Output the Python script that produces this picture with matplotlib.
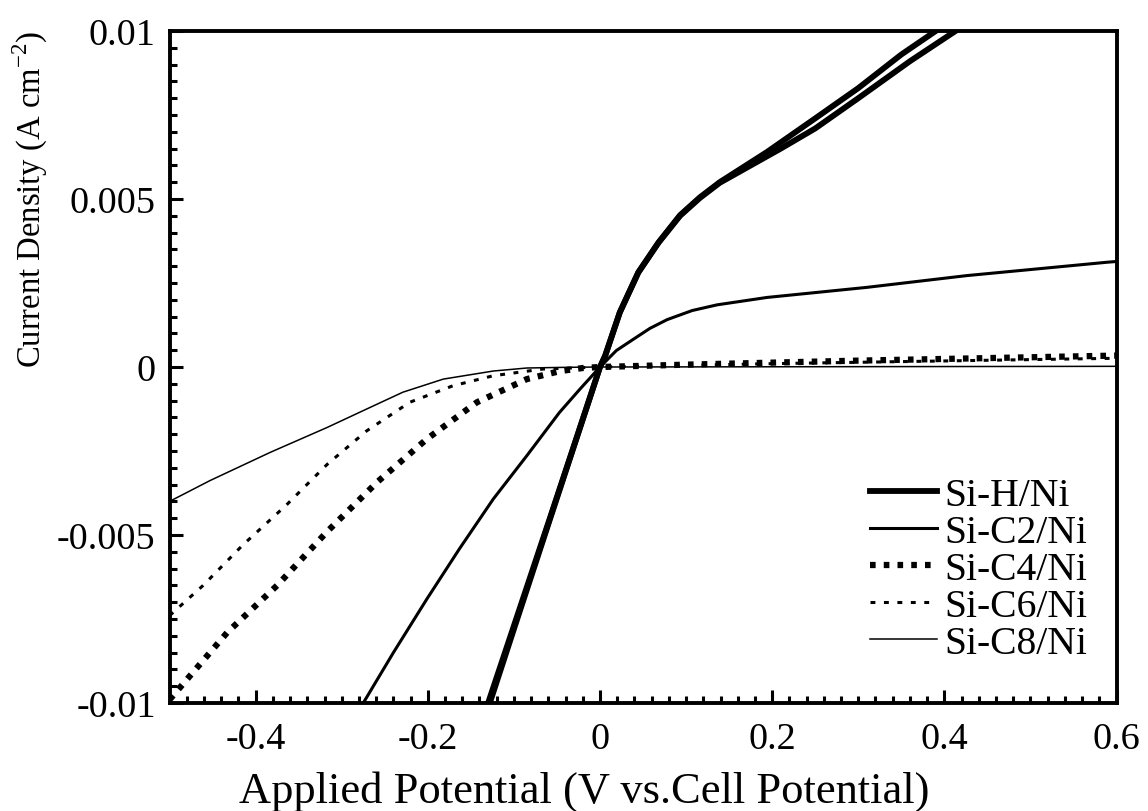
import numpy as np
import matplotlib
matplotlib.use('Agg')
import matplotlib.pyplot as plt
from matplotlib.ticker import MultipleLocator

plt.rcParams['font.family'] = ['Liberation Serif', 'DejaVu Serif']
plt.rcParams['mathtext.fontset'] = 'custom'
plt.rcParams['mathtext.rm'] = 'Liberation Serif'

# applied potential (V) vs current density (A cm-2)
sih_x = [-0.128, -0.1, -0.058, -0.03, 0, 0.006, 0.023, 0.0445, 0.068, 0.093,
         0.116, 0.139, 0.194, 0.25, 0.30, 0.35, 0.39]
sih_y = [-0.01, -0.0078, -0.00452, -0.00234, 0, 0.00034, 0.00163, 0.00282,
         0.00371, 0.00452, 0.00505, 0.0055, 0.0064, 0.0074, 0.0083, 0.0093,
         0.01]

# second thick trace (scan repeat), splits from the first above ~0.2 V
sih2_x = [-0.13, -0.1, -0.058, -0.03, 0, 0.006, 0.023, 0.0445, 0.068, 0.093,
          0.116, 0.139, 0.21, 0.25, 0.30, 0.36, 0.413]
sih2_y = [-0.01, -0.0077, -0.00448, -0.00232, 0, 0.00033, 0.00162, 0.00281,
          0.0037, 0.0045, 0.00503, 0.00548, 0.0065, 0.0071, 0.0080, 0.0091,
          0.01]

c2_x = [-0.275, -0.24, -0.201, -0.163, -0.124, -0.085, -0.047, -0.023, 0,
        0.019, 0.039, 0.058, 0.078, 0.107, 0.136, 0.194, 0.31, 0.426, 0.59,
        0.6]
c2_y = [-0.01, -0.0085, -0.0069, -0.0054, -0.00393, -0.00264, -0.00135,
        -0.00065, 0, 0.00049, 0.00083, 0.00115, 0.00141, 0.00168, 0.00185,
        0.00207, 0.00237, 0.00272, 0.00312, 0.00314]

c4_x = [-0.5, -0.433, -0.375, -0.317, -0.259, -0.201, -0.143, -0.085, -0.046,
        -0.02, 0, 0.1, 0.2, 0.3, 0.4, 0.5, 0.6]
c4_y = [-0.0099, -0.0079, -0.0065, -0.0049, -0.00343, -0.00214, -0.00105,
        -0.00036, -0.00012, -0.00003, 0, 0.00007, 0.00013, 0.00019, 0.00024,
        0.00029, 0.00034]

c6_x = [-0.5, -0.461, -0.415, -0.364, -0.317, -0.271, -0.221, -0.171, -0.124,
        -0.066, 0, 0.2, 0.4, 0.6]
c6_y = [-0.0074, -0.0065, -0.0053, -0.0041, -0.0029, -0.0019, -0.00105,
        -0.00056, -0.00026, -0.00006, 0, 0.0001, 0.00018, 0.00026]

c8_x = [-0.5, -0.453, -0.383, -0.317, -0.271, -0.229, -0.182, -0.124, -0.085,
        -0.04, 0, 0.3, 0.6]
c8_y = [-0.0040, -0.00338, -0.00254, -0.0018, -0.00125, -0.00075, -0.00036,
        -0.00012, -0.00003, -0.00001, 0, 0.00001, 0.00002]

fig = plt.figure(figsize=(11.48, 8.12), dpi=100)
ax = fig.add_axes([0.1477, 0.133, 0.8249, 0.8276])

ax.plot(sih_x, sih_y, 'k-', lw=4.2, label='Si-H/Ni', solid_joinstyle='round')
ax.plot(sih2_x, sih2_y, 'k-', lw=4.2, solid_joinstyle='round')
ax.plot(c2_x, c2_y, 'k-', lw=2.2, label='Si-C2/Ni', solid_joinstyle='round')
ax.plot(c4_x, c4_y, 'k', lw=4.5, ls=(0, (0.9, 1.3)), label='Si-C4/Ni')
ax.plot(c6_x, c6_y, 'k', lw=2.2, ls=(0, (1.6, 2.8)), label='Si-C6/Ni')
ax.plot(c8_x, c8_y, 'k-', lw=1.1, label='Si-C8/Ni')

ax.set_xlim(-0.5, 0.6)
ax.set_ylim(-0.01, 0.01)
ax.xaxis.set_minor_locator(MultipleLocator(0.02))
ax.yaxis.set_minor_locator(MultipleLocator(0.0005))
ax.set_xticks([-0.4, -0.2, 0, 0.2, 0.4, 0.6])
ax.set_xticklabels(['-0.4', '-0.2', '0', '0.2', '0.4', '0.6'])
ax.set_yticks([-0.01, -0.005, 0, 0.005, 0.01])
ax.set_yticklabels(['-0.01', '-0.005', '0', '0.005', '0.01'])

ax.tick_params(which='both', direction='in', top=False, right=False,
               width=2.2, labelsize=27.5)
ax.tick_params(axis='x', which='major', length=9.5, pad=13)
ax.tick_params(axis='y', which='major', length=9.5, pad=10)
ax.tick_params(which='minor', length=5)
for s in ax.spines.values():
    s.set_linewidth(2.8)

ax.set_xlabel('Applied Potential (V vs.Cell Potential)', fontsize=32)
ax.xaxis.label.set_va('center')
ax.xaxis.set_label_coords(0.4376, -0.13)
ax.set_ylabel('Current Density (A cm$^{-2}$)', fontsize=23.5)
ax.yaxis.label.set_va('center')
ax.yaxis.set_label_coords(-0.1474, 0.75)

ax.legend(loc='lower left', bbox_to_anchor=(0.7396, 0.0614), frameon=False,
          fontsize=28.5, handlelength=1.69, handletextpad=0.2,
          labelspacing=0.0, borderaxespad=0, borderpad=0)

fig.savefig('out.png', dpi=100)
